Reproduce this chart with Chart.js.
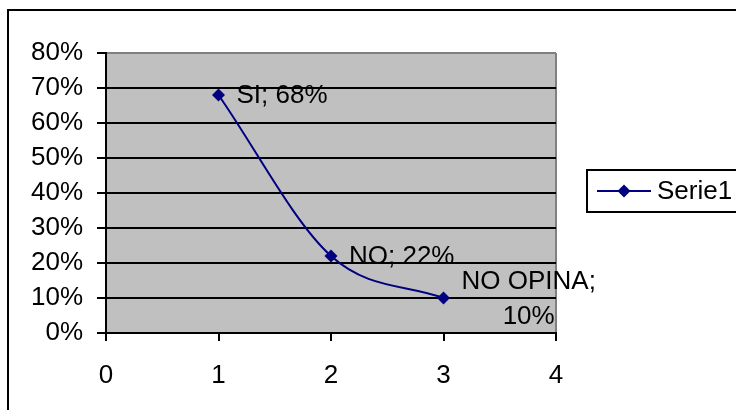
<!DOCTYPE html>
<html>
<head>
<meta charset="utf-8">
<title>Serie1</title>
<script src="https://cdn.jsdelivr.net/npm/chart.js@4/dist/chart.umd.min.js"></script>
<style>
  html, body { margin: 0; padding: 0; background: #fff; }
  #chart { display: block; }
</style>
</head>
<body>
<canvas id="chart" width="736" height="410"></canvas>
<script>
// Survey answers and their shares
const categories = ['SI', 'NO', 'NO OPINA'];
const xPositions = [1, 2, 3];
const shares = [0.68, 0.22, 0.10];
const seriesName = 'Serie1';
const xTickValues = [0, 1, 2, 3, 4];
const yTickValues = [0, 0.1, 0.2, 0.3, 0.4, 0.5, 0.6, 0.7, 0.8];

const FONT = '"Liberation Sans", Arial, sans-serif';
const FONT_SIZE = 26;
const NAVY = '#000080';

const pct = v => Math.round(v * 100) + '%';

// Grey plot background and the outer frame of the chart
const backdrop = {
  id: 'backdrop',
  beforeDraw(chart) {
    const { ctx, chartArea: a } = chart;
    ctx.save();
    ctx.fillStyle = '#ffffff';
    ctx.fillRect(0, 0, chart.width, chart.height);
    ctx.fillStyle = '#c0c0c0';
    ctx.fillRect(a.left, a.top, a.right - a.left, a.bottom - a.top);
    ctx.strokeStyle = '#000000';
    ctx.lineWidth = 2;
    ctx.strokeRect(8, 10, chart.width + 40, chart.height + 40);
    ctx.restore();
  }
};

// "Category; value" labels beside each point
const pointLabels = {
  id: 'pointLabels',
  afterDatasetsDraw(chart) {
    const { ctx } = chart;
    const meta = chart.getDatasetMeta(0);
    ctx.save();
    ctx.font = FONT_SIZE + 'px ' + FONT;
    ctx.fillStyle = '#000000';
    ctx.textBaseline = 'middle';
    meta.data.forEach((pt, i) => {
      const name = categories[i];
      const value = pct(chart.data.datasets[0].data[i].y);
      const lines = name.includes(' ') ? [name + ';', value] : [name + '; ' + value];
      const widest = Math.max(...lines.map(l => ctx.measureText(l).width));
      const left = pt.x + 18;
      const lh = 35;
      const top = pt.y - (lines.length - 1) * lh / 2;
      ctx.textAlign = lines.length > 1 ? 'center' : 'left';
      lines.forEach((l, k) => {
        const x = lines.length > 1 ? left + widest / 2 : left;
        ctx.fillText(l, x, top + k * lh + 1);
      });
    });
    ctx.restore();
  }
};

// Boxed legend on the right
const boxLegend = {
  id: 'boxLegend',
  afterDraw(chart) {
    const { ctx } = chart;
    const ds = chart.data.datasets[0];
    const bx = 587, by = 170, bh = 42;
    const cy = by + bh / 2;
    ctx.save();
    ctx.strokeStyle = '#000000';
    ctx.lineWidth = 2;
    ctx.strokeRect(bx, by, 200, bh);
    ctx.strokeStyle = ds.borderColor;
    ctx.lineWidth = 2;
    ctx.beginPath();
    ctx.moveTo(597, cy);
    ctx.lineTo(651, cy);
    ctx.stroke();
    ctx.fillStyle = ds.pointBackgroundColor;
    const r = 6.5;
    ctx.beginPath();
    ctx.moveTo(624, cy - r);
    ctx.lineTo(624 + r, cy);
    ctx.lineTo(624, cy + r);
    ctx.lineTo(624 - r, cy);
    ctx.closePath();
    ctx.fill();
    ctx.fillStyle = '#000000';
    ctx.font = FONT_SIZE + 'px ' + FONT;
    ctx.textAlign = 'left';
    ctx.textBaseline = 'middle';
    ctx.fillText(ds.label, 657, cy + 1);
    ctx.restore();
  }
};

new Chart(document.getElementById('chart'), {
  type: 'line',
  data: {
    datasets: [{
      label: seriesName,
      data: xPositions.map((x, i) => ({ x, y: shares[i] })),
      borderColor: NAVY,
      backgroundColor: NAVY,
      pointBackgroundColor: NAVY,
      pointBorderColor: NAVY,
      borderWidth: 2,
      pointStyle: 'rectRot',
      pointRadius: 6.5,
      pointBorderWidth: 0,
      cubicInterpolationMode: 'monotone',
      fill: false
    }]
  },
  options: {
    responsive: false,
    animation: false,
    events: [],
    layout: { padding: { left: 0, top: 53, right: 736 - 556, bottom: 0 } },
    plugins: {
      legend: { display: false },
      tooltip: { enabled: false }
    },
    scales: {
      x: {
        type: 'linear',
        min: 0,
        max: 4,
        afterBuildTicks: s => { s.ticks = xTickValues.map(v => ({ value: v })); },
        afterFit: s => { s.height = 410 - 333; },
        ticks: {
          color: '#000000',
          font: { family: FONT, size: FONT_SIZE },
          padding: 19,
          maxRotation: 0
        },
        grid: {
          drawOnChartArea: true,
          color: c => (c.tick && c.tick.value === 4) ? '#808080' : 'rgba(0,0,0,0)',
          lineWidth: 2,
          tickColor: '#000000',
          tickLength: 8,
          tickWidth: 2
        },
        border: { color: '#000000', width: 2 }
      },
      y: {
        type: 'linear',
        min: 0,
        max: 0.8,
        afterBuildTicks: s => { s.ticks = yTickValues.map(v => ({ value: v })); },
        afterFit: s => { s.width = 106; },
        ticks: {
          color: '#000000',
          font: { family: FONT, size: FONT_SIZE },
          padding: 14,
          callback: v => pct(v)
        },
        grid: {
          color: c => (c.tick && Math.abs(c.tick.value - 0.8) < 1e-9) ? '#808080' : '#000000',
          lineWidth: 2,
          tickColor: '#000000',
          tickLength: 9,
          tickWidth: 2
        },
        border: { color: '#000000', width: 2 }
      }
    }
  },
  plugins: [backdrop, pointLabels, boxLegend]
});
</script>
</body>
</html>
